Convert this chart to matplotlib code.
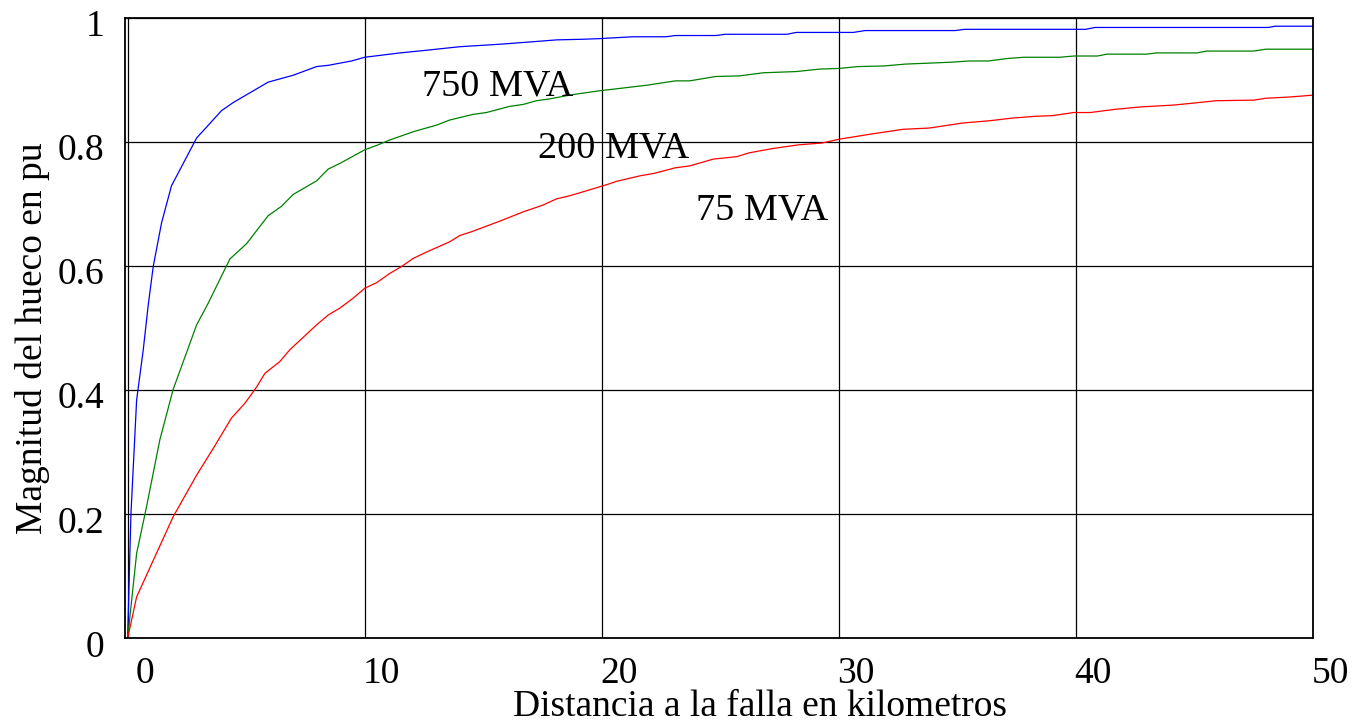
import matplotlib
matplotlib.use("Agg")
import matplotlib.pyplot as plt
from matplotlib.transforms import ScaledTranslation

# -----------------------------
# DATA
# -----------------------------
# distance to fault in km
x_750 = [0, 0.14, 0.38, 0.66, 0.87, 1.08, 1.43, 1.85, 2.91, 3.96, 4.45, 5.93, 6.98,
         7.97, 8.46, 9.44, 10.0, 11.48, 12.53, 14.01, 15.7, 17.09, 18.09, 19.2, 19.9,
         21.3, 22.7, 23.1, 24.8, 25.2, 27.8, 28.2, 30.0, 30.6, 31.1, 34.9, 35.3, 40.4,
         40.8, 48.1, 48.4, 50.0]
v_750 = [0, 0.20, 0.384, 0.465, 0.537, 0.599, 0.669, 0.729, 0.806, 0.850, 0.863, 0.896,
         0.907, 0.921, 0.923, 0.930, 0.936, 0.943, 0.947, 0.953, 0.957, 0.961, 0.964,
         0.965, 0.966, 0.969, 0.969, 0.971, 0.971, 0.973, 0.973, 0.976, 0.976, 0.976,
         0.979, 0.979, 0.981, 0.981, 0.984, 0.984, 0.986, 0.986]

x_200 = [0, 0.38, 0.77, 1.36, 1.92, 2.91, 3.40, 4.31, 5.02, 5.93, 6.49, 6.98, 7.97,
         8.46, 8.95, 10.0, 10.5, 11.0, 12.04, 13.05, 13.59, 14.57, 15.13, 16.12, 16.68,
         17.24, 17.8, 18.79, 19.9, 21.9, 23.1, 23.7, 24.8, 25.8, 26.8, 28.2, 29.2, 30.0,
         30.8, 31.9, 32.8, 34.7, 35.5, 36.3, 37.1, 37.8, 39.3, 39.9, 40.9, 41.3, 42.96,
         43.4, 45.1, 45.5, 47.5, 48.0, 50.0]
v_200 = [0, 0.137, 0.207, 0.320, 0.401, 0.505, 0.540, 0.611, 0.636, 0.681, 0.696, 0.715,
         0.737, 0.756, 0.765, 0.787, 0.794, 0.802, 0.816, 0.827, 0.835, 0.844, 0.847,
         0.857, 0.860, 0.866, 0.869, 0.876, 0.882, 0.891, 0.898, 0.898, 0.905, 0.906,
         0.911, 0.913, 0.917, 0.918, 0.921, 0.922, 0.925, 0.928, 0.930, 0.930, 0.934,
         0.936, 0.936, 0.938, 0.938, 0.941, 0.941, 0.943, 0.943, 0.946, 0.946, 0.949,
         0.949]

x_75 = [0, 0.38, 1.92, 2.91, 3.61, 4.38, 4.95, 5.44, 5.79, 6.42, 6.84, 7.97, 8.46, 8.95,
        9.51, 10.0, 10.5, 11.06, 11.55, 12.04, 12.53, 13.59, 14.01, 14.5, 15.13, 15.62,
        16.68, 17.52, 18.09, 18.65, 19.7, 20.3, 20.6, 21.6, 22.2, 23.1, 23.7, 24.7,
        25.7, 26.2, 27.2, 28.3, 29.3, 30.0, 31.3, 32.7, 33.8, 35.2, 36.4, 37.3, 38.3,
        39.0, 39.9, 40.6, 41.6, 42.7, 44.1, 44.9, 45.9, 47.5, 48.0, 49.0, 50.0]
v_75 = [0, 0.067, 0.196, 0.263, 0.306, 0.355, 0.379, 0.405, 0.427, 0.446, 0.465, 0.505,
        0.521, 0.532, 0.548, 0.564, 0.573, 0.588, 0.599, 0.612, 0.621, 0.639, 0.649,
        0.655, 0.664, 0.671, 0.687, 0.698, 0.708, 0.713, 0.725, 0.732, 0.736, 0.745,
        0.749, 0.758, 0.761, 0.772, 0.776, 0.782, 0.789, 0.795, 0.798, 0.804, 0.812,
        0.820, 0.822, 0.830, 0.834, 0.838, 0.841, 0.842, 0.847, 0.847, 0.852, 0.856,
        0.859, 0.862, 0.866, 0.867, 0.870, 0.872, 0.875]

x_ticks = [0, 10, 20, 30, 40, 50]
y_ticks = [0, 0.2, 0.4, 0.6, 0.8, 1.0]
y_tick_labels = ["0", "0.2", "0.4", "0.6", "0.8", "1"]

# -----------------------------
# PLOT
# -----------------------------
plt.rcParams["font.family"] = ["Liberation Serif", "DejaVu Serif"]
plt.rcParams["font.size"] = 27

fig = plt.figure(figsize=(13.55, 7.24), dpi=100)
ax = fig.add_axes([0.0926, 0.1181, 0.8766, 0.8577])

ax.plot(x_750, v_750, color="#0000ff", lw=0.9)
ax.plot(x_200, v_200, color="#008000", lw=0.9)
ax.plot(x_75, v_75, color="#ff0000", lw=0.9)

ax.text(12.41, 0.875, "750 MVA", va="baseline", ha="left", fontsize=27.5)
ax.text(17.31, 0.774, "200 MVA", va="baseline", ha="left", fontsize=27.5)
ax.text(23.99, 0.6755, "75 MVA", va="baseline", ha="left", fontsize=27.5)

ax.set_xlim(-0.09, 50)
ax.set_ylim(0, 1)
ax.set_xticks(x_ticks)
ax.set_yticks(y_ticks)
ax.set_yticklabels(y_tick_labels)
ax.tick_params(length=0)
ax.tick_params(axis="x", pad=13)
ax.tick_params(axis="y", pad=15)
ax.grid(True, color="black", lw=0.9)
for s in ax.spines.values():
    s.set_linewidth(1.3)

# tick labels sit a bit off their grid lines, like the original
for lab in ax.get_xticklabels():
    lab.set_transform(lab.get_transform() + ScaledTranslation(0.17, 0, fig.dpi_scale_trans))
for lab in ax.get_yticklabels():
    lab.set_transform(lab.get_transform() + ScaledTranslation(0, -0.05, fig.dpi_scale_trans))

ax.set_xlabel("Distancia a la falla en kilometros")
ax.xaxis.set_label_coords(0.534, -0.082)
ax.set_ylabel("Magnitud del hueco en pu")
ax.yaxis.set_label_coords(-0.078, 0.484)
ax.yaxis.label.set_va("center")

fig.savefig("out.png", dpi=100)
